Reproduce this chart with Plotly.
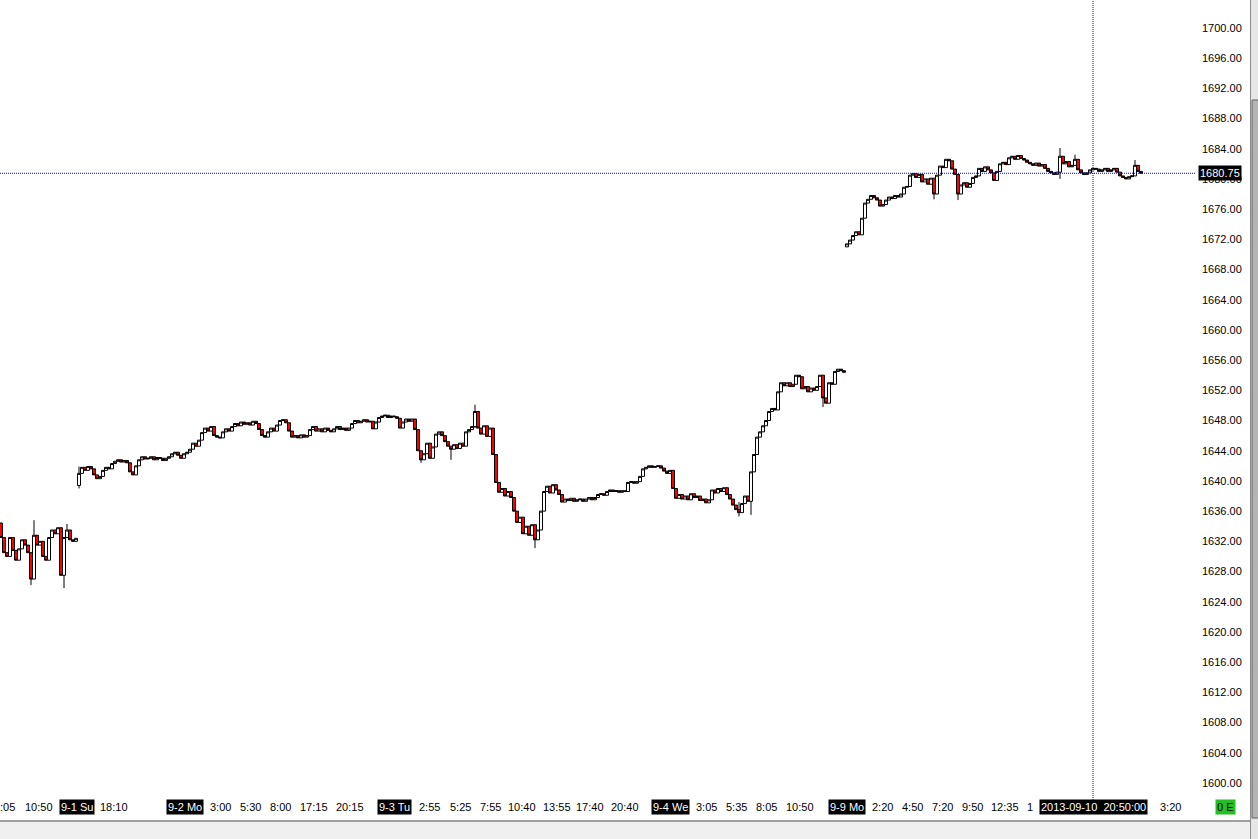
import plotly.graph_objects as go

# ---------------- data ----------------
seg1_open = 1634.4
seg1_close = [1632.5, 1630.5, 1630.0, 1632.5, 1630.8, 1629.5, 1631.0, 1632.2, 1631.5, 1630.5,
              1627.0, 1632.8, 1631.5, 1632.0, 1630.0, 1629.5, 1632.5, 1633.5, 1633.0, 1633.8,
              1627.5, 1632.5, 1633.5, 1632.2, 1632.0, 1632.4]
seg1_wicks = {0: (1634.5, 1632.5), 10: (1630.5, 1626.2), 11: (1634.8, 1627.0),
              21: (1632.5, 1625.8), 22: (1634.3, 1632.5)}

seg2_open = 1639.4
seg2_close = [1641.0, 1641.8, 1641.4, 1641.9, 1641.6, 1640.8, 1640.3, 1640.6, 1641.4, 1641.8,
              1641.6, 1642.3, 1642.6, 1642.8, 1642.5, 1642.7, 1642.4, 1641.2, 1640.8, 1642.0,
              1642.8, 1643.2, 1642.9, 1643.0, 1643.2, 1642.8, 1643.1, 1643.0, 1642.7, 1643.0,
              1643.2, 1643.6, 1643.8, 1643.4, 1643.0, 1643.6, 1643.8, 1644.2, 1645.0, 1644.6,
              1645.4, 1646.4, 1647.0, 1646.6, 1647.2, 1646.0, 1645.8, 1645.7, 1646.5, 1646.9,
              1646.6, 1647.2, 1647.6, 1647.3, 1647.8, 1647.5, 1647.7, 1647.4, 1647.9, 1647.6,
              1646.8, 1646.0, 1645.8, 1646.5, 1647.0, 1646.6, 1647.4, 1648.0, 1648.1, 1647.7,
              1646.6, 1645.8, 1646.0, 1645.7, 1646.1, 1645.8, 1646.0, 1646.8, 1647.2, 1646.6,
              1646.9, 1646.5, 1647.0, 1646.7, 1646.5, 1646.9, 1647.2, 1646.8, 1647.0, 1646.7,
              1647.0, 1647.6, 1648.0, 1647.7, 1647.9, 1648.1, 1647.8, 1647.9, 1646.9, 1647.8,
              1648.4, 1648.6, 1648.7, 1648.4, 1648.6, 1648.5, 1648.3, 1647.0, 1647.8, 1648.2,
              1647.9, 1648.2, 1646.8, 1644.0, 1642.8, 1643.6, 1645.0, 1643.0, 1644.5, 1646.2,
              1646.5, 1646.0, 1645.2, 1644.6, 1644.2, 1644.8, 1644.3, 1645.0, 1644.6, 1646.5,
              1646.8, 1647.2, 1649.2, 1647.0, 1646.2, 1647.3, 1645.9, 1647.0, 1643.5, 1639.8,
              1638.5, 1639.0, 1638.0, 1638.6, 1637.8, 1636.0, 1634.5, 1635.2, 1633.0, 1634.0,
              1632.8, 1634.2, 1632.2, 1633.5, 1636.0, 1638.6, 1639.3, 1638.4, 1639.5, 1638.8,
              1638.2, 1637.2, 1637.6, 1637.4, 1637.7, 1637.3, 1637.5, 1637.6, 1637.3, 1637.6,
              1637.8, 1637.5, 1637.8, 1638.2, 1638.3, 1638.1, 1638.6, 1638.8, 1638.6, 1638.7,
              1638.5, 1638.7, 1638.6, 1639.8, 1639.9, 1639.7, 1639.9, 1640.6, 1641.6, 1641.8,
              1642.0, 1641.8, 1641.9, 1642.0, 1641.7, 1641.3, 1641.0, 1641.4, 1639.0, 1637.7,
              1638.2, 1637.6, 1638.0, 1637.5, 1638.3, 1637.8, 1638.0, 1637.4, 1637.6, 1637.1,
              1637.5, 1638.8, 1638.4, 1639.0, 1638.6, 1639.1, 1638.2, 1637.6, 1636.8, 1636.2,
              1635.8, 1637.0, 1638.0, 1637.3, 1641.2, 1643.5, 1645.8, 1646.5, 1647.3, 1648.0,
              1649.2, 1649.6, 1649.4, 1651.8, 1653.0, 1652.6, 1653.0, 1652.5, 1652.8, 1654.0,
              1653.8, 1652.2, 1652.5, 1651.8, 1652.3, 1652.0, 1652.5, 1654.0, 1651.0, 1650.3,
              1653.0, 1652.8, 1654.5, 1654.8, 1654.6, 1654.4]
seg2_wicks = {0: (1641.9, 1639.0), 114: (1644.0, 1642.4), 124: (1644.6, 1642.8),
              132: (1650.1, 1647.0), 152: (1633.6, 1631.1), 220: (1637.2, 1635.3),
              224: (1641.2, 1635.5), 248: (1654.0, 1649.8)}

seg3_open = 1671.0
seg3_close = [1671.4, 1671.9, 1672.5, 1673.0, 1672.6, 1674.8, 1676.8, 1677.3, 1677.8, 1677.5,
              1677.2, 1676.4, 1676.6, 1677.2, 1677.6, 1677.4, 1677.8, 1677.6, 1678.0, 1678.9,
              1679.0, 1680.5, 1680.7, 1680.2, 1680.6, 1679.6, 1680.0, 1679.3, 1680.1, 1678.0,
              1680.5, 1681.7, 1681.5, 1682.6, 1682.4, 1681.3, 1680.6, 1678.0, 1679.2, 1679.5,
              1678.9, 1679.4, 1680.2, 1680.4, 1681.4, 1681.0, 1681.6, 1681.2, 1680.8, 1679.8,
              1681.0, 1682.0, 1682.2, 1681.9, 1682.8, 1683.0, 1682.6, 1683.1, 1682.7, 1682.5,
              1682.2, 1682.0, 1681.8, 1682.1, 1681.7, 1681.9, 1681.4, 1681.0, 1680.8, 1680.6,
              1680.9, 1683.0, 1682.0, 1682.3, 1681.6, 1681.8, 1682.6, 1681.2, 1680.8, 1680.6,
              1680.8, 1681.2, 1681.4, 1681.3, 1681.0, 1681.2, 1681.4, 1681.0, 1681.2, 1681.4,
              1680.9, 1680.4, 1680.2, 1680.0, 1680.3, 1680.4, 1681.8, 1681.0, 1680.75]
seg3_wicks = {29: (1680.1, 1677.3), 37: (1680.6, 1677.2), 71: (1684.1, 1680.0),
              76: (1683.2, 1681.8), 96: (1682.5, 1680.4)}

last_price = 1680.75
y_ticks = list(range(1600, 1704, 4))

time_labels = [":05", "10:50", "18:10", "3:00", "5:30", "8:00", "17:15", "20:15",
               "2:55", "5:25", "7:55", "10:40", "13:55", "17:40", "20:40",
               "3:05", "5:35", "8:05", "10:50", "2:20", "4:50", "7:20", "9:50",
               "12:35", "1", "3:20"]
time_label_pos = [2.3, 12.7, 37.7, 73.0, 83.0, 93.0, 104.3, 116.3,
                  142.7, 153.0, 163.0, 173.7, 185.3, 196.3, 208.0,
                  235.3, 245.3, 255.0, 266.3, 293.7, 303.7, 313.7, 323.7,
                  334.7, 343.0, 389.7]
day_labels = ["9-1 Su", "9-2 Mo", "9-3 Tu", "9-4 We", "9-9 Mo"]
day_label_pos = [25.3, 61.3, 131.3, 223.3, 282.0]
cursor_pos = 364.0
cursor_label = "2013-09-10  20:50:00"

# ---------------- build OHLC ----------------
def build(open0, closes, wicks):
    o, h, l, c = [], [], [], []
    prev = open0
    for k, cl in enumerate(closes):
        op = prev
        hi, lo = max(op, cl), min(op, cl)
        if k in wicks:
            hi = max(hi, wicks[k][0])
            lo = min(lo, wicks[k][1])
        o.append(op); h.append(hi); l.append(lo); c.append(cl)
        prev = cl
    return o, h, l, c

O, H, L, C = [], [], [], []
for op0, cls, wk in [(seg1_open, seg1_close, seg1_wicks),
                     (seg2_open, seg2_close, seg2_wicks),
                     (seg3_open, seg3_close, seg3_wicks)]:
    a, b, d, e = build(op0, cls, wk)
    O += a; H += b; L += d; C += e
X = list(range(len(C)))

FONT = "Liberation Sans"

fig = go.Figure(go.Candlestick(
    x=X, open=O, high=H, low=L, close=C,
    increasing=dict(line=dict(color="black", width=1), fillcolor="white"),
    decreasing=dict(line=dict(color="black", width=1), fillcolor="#ff0000"),
    whiskerwidth=0, hoverinfo="skip", showlegend=False))

PW = 1197.0   # plot width in px
PH = 795.0    # plot height in px

def py(px):   # pixel row -> paper y
    return (PH - px) / PH

shapes = [
    dict(type="line", xref="paper", yref="y", x0=0, x1=1195 / PW, y0=last_price, y1=last_price,
         line=dict(color="#0000ff", width=1, dash="1px,1px")),
    dict(type="line", xref="x", yref="paper", x0=cursor_pos, x1=cursor_pos, y0=py(800), y1=1,
         line=dict(color="#0000ff", width=1, dash="1px,1px")),
    # bottom gray strip
    dict(type="rect", xref="paper", yref="paper", x0=-0.01, x1=1270 / PW,
         y0=py(850), y1=py(822), fillcolor="#f0f0f0", line=dict(width=0), layer="above"),
    dict(type="line", xref="paper", yref="paper", x0=-0.01, x1=1251 / PW,
         y0=py(821), y1=py(821), line=dict(color="#a0a0a0", width=2)),
    # scrollbar
    dict(type="rect", xref="paper", yref="paper", x0=1250 / PW, x1=1262 / PW,
         y0=py(850), y1=1.01, fillcolor="#e6e6e6", line=dict(width=0)),
    dict(type="line", xref="paper", yref="paper", x0=1250.5 / PW, x1=1250.5 / PW,
         y0=py(850), y1=1.01, line=dict(color="#8a8a8a", width=1)),
    dict(type="rect", xref="paper", yref="paper", x0=1252 / PW, x1=1262 / PW,
         y0=py(818), y1=py(100), fillcolor="#b4b4b4", line=dict(color="#606060", width=1)),
]

annotations = []
for t, p in zip(time_labels, time_label_pos):
    annotations.append(dict(x=p, y=0, xref="x", yref="paper", text=t, showarrow=False,
                            yanchor="middle", yshift=-12, font=dict(family=FONT, size=11, color="black")))
for t, p in zip(day_labels, day_label_pos):
    annotations.append(dict(x=p, y=0, xref="x", yref="paper", text=t, showarrow=False,
                            yanchor="middle", yshift=-12, bgcolor="black", borderpad=1,
                            font=dict(family=FONT, size=11, color="white")))
annotations.append(dict(x=cursor_pos, y=0, xref="x", yref="paper", text=cursor_label,
                        showarrow=False, yanchor="middle", yshift=-12, bgcolor="black", borderpad=1,
                        font=dict(family=FONT, size=11, color="white")))
annotations.append(dict(x=1235.5 / PW, y=0, xref="paper", yref="paper", text="0 E",
                        showarrow=False, yanchor="middle", yshift=-12, bgcolor="#22c022", borderpad=1,
                        font=dict(family=FONT, size=11, color="black")))
annotations.append(dict(x=1.0, y=last_price, xref="paper", yref="y", text="%.2f" % last_price,
                        showarrow=False, xanchor="left", xshift=1, yanchor="middle",
                        bgcolor="black", borderpad=1, font=dict(family=FONT, size=11, color="white")))

fig.update_layout(
    width=1258, height=839,
    margin=dict(l=0, r=61, t=0, b=44),
    paper_bgcolor="white", plot_bgcolor="white",
    boxgap=0.0, boxgroupgap=0.0,
    xaxis=dict(range=[-1 / 3, 399 - 1 / 3], showgrid=False, zeroline=False, showticklabels=False,
               showline=False, ticks="", rangeslider=dict(visible=False), fixedrange=True),
    yaxis=dict(side="right", range=[1598.4, 1703.7], tickvals=y_ticks,
               ticktext=["%.2f" % v for v in y_ticks], showgrid=False, zeroline=False,
               showline=False, ticks="", ticklabelstandoff=4,
               tickfont=dict(family=FONT, size=11, color="black"), fixedrange=True),
    shapes=shapes, annotations=annotations, showlegend=False,
)

fig.write_html("out.html", config={"displayModeBar": False},
               post_script="document.body.style.margin='0px';document.body.style.overflow='hidden';")
